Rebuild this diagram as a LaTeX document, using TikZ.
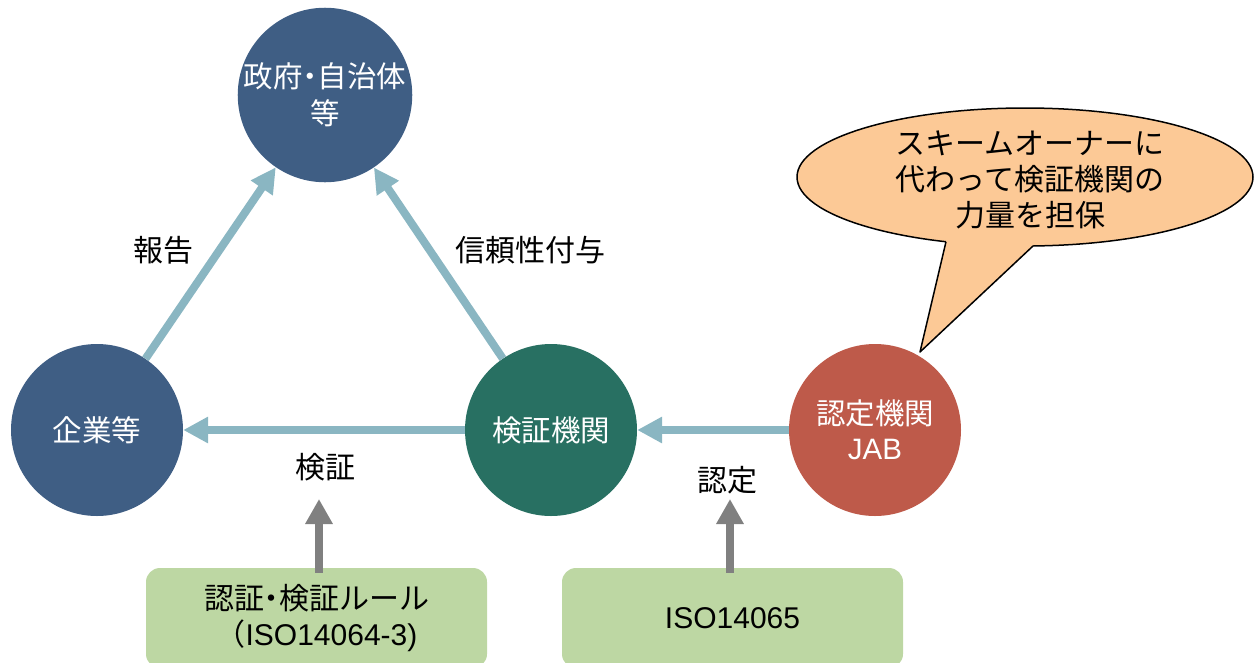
\documentclass[tikz,border=0pt]{standalone}
\usepackage{fontspec}
\setmainfont{Liberation Sans}
\newfontfamily\cjk{Noto Sans CJK JP}
\newfontfamily\cjkp[RawFeature=+palt]{Noto Sans CJK JP}
\usetikzlibrary{arrows.meta}
\definecolor{cgov}{HTML}{3F5E84}
\definecolor{cver}{HTML}{287062}
\definecolor{cjab}{HTML}{BE5A4A}
\definecolor{carrow}{HTML}{8AB6C2}
\definecolor{cgrey}{HTML}{808080}
\definecolor{cbox}{HTML}{BDD7A3}
\definecolor{ccall}{HTML}{FCC996}
\tikzset{
  circ/.style={circle, minimum size=172pt, inner sep=0pt, text=white, align=center,
    font=\fontsize{29.5}{37}\selectfont},
  lbl/.style={font=\fontsize{30}{36}\selectfont, text=black, align=center},
  barrow/.style={draw=carrow, line width=8pt, -{Triangle[width=25pt,length=25pt]}},
  garrow/.style={draw=cgrey, line width=8pt, -{Triangle[width=26pt,length=25pt]}},
  gbox/.style={fill=cbox, rounded corners=14pt, minimum width=341pt, minimum height=100pt,
    inner sep=0pt, align=center, font=\fontsize{30}{36}\selectfont},
}
\begin{document}
\begin{tikzpicture}[x=1pt,y=-1pt]
\useasboundingbox (0,0) rectangle (1254,662);
% callout
\filldraw[fill=ccall, draw=black, line width=1.5pt] (1025,177) ellipse [x radius=228, y radius=69];
\fill[ccall] (946,225) -- (946,241.7) -- (920,352) -- (1033,246) -- (1033,225) -- cycle;
\coordinate (tailA) at (946,241.7);
\coordinate (tailB) at (1033,246);
\coordinate (tailT) at (920,352);
\draw[black, line width=1.5pt, line join=round] (tailA) -- (tailT) -- (tailB);
\node[lbl] (callt) at (1030,180) {{\cjk スキームオーナーに}\\{\cjk 代わって検証機関の}\\{\cjk 力量を担保}};
% circles
\node[circ, fill=cgov] (gov) at (325,95) {{\cjk 政府}{\cjkp ・}{\cjk 自治体}\\{\cjk 等}};
\node[circ, fill=cgov] (corp) at (97,430) {{\cjk 企業等}};
\node[circ, fill=cver] (ver) at (551,430) {{\cjk 検証機関}};
\node[circ, fill=cjab, font=\fontsize{29.5}{35}\selectfont] (jab) at (875,430) {{\cjk 認定機関}\\JAB};
% blue arrows
\draw[barrow] (corp) -- (gov);
\draw[barrow] (ver) -- (gov);
\draw[barrow] (ver) -- (corp);
\draw[barrow] (jab) -- (ver);
% labels
\node[lbl] (lrep) at (163,250) {{\cjk 報告}};
\node[lbl] (ltrust) at (530,250) {{\cjk 信頼性付与}};
\node[lbl] (lver) at (325,467) {{\cjk 検証}};
\node[lbl] (lacc) at (727,480) {{\cjk 認定}};
% boxes
\node[gbox] (rule) at (316.5,618) {{\cjk 認証}{\cjkp ・}{\cjk 検証ルール}\\{\cjk （}ISO14064-3)};
\node[gbox] (iso) at (732.5,618) {ISO14065};
% grey arrows
\coordinate (g1) at (319,499);
\coordinate (g2) at (730,499);
\draw[garrow] ([yshift=-5pt]g1 |- rule.north) -- (g1);
\draw[garrow] ([yshift=-5pt]g2 |- iso.north) -- (g2);
\end{tikzpicture}
\end{document}
